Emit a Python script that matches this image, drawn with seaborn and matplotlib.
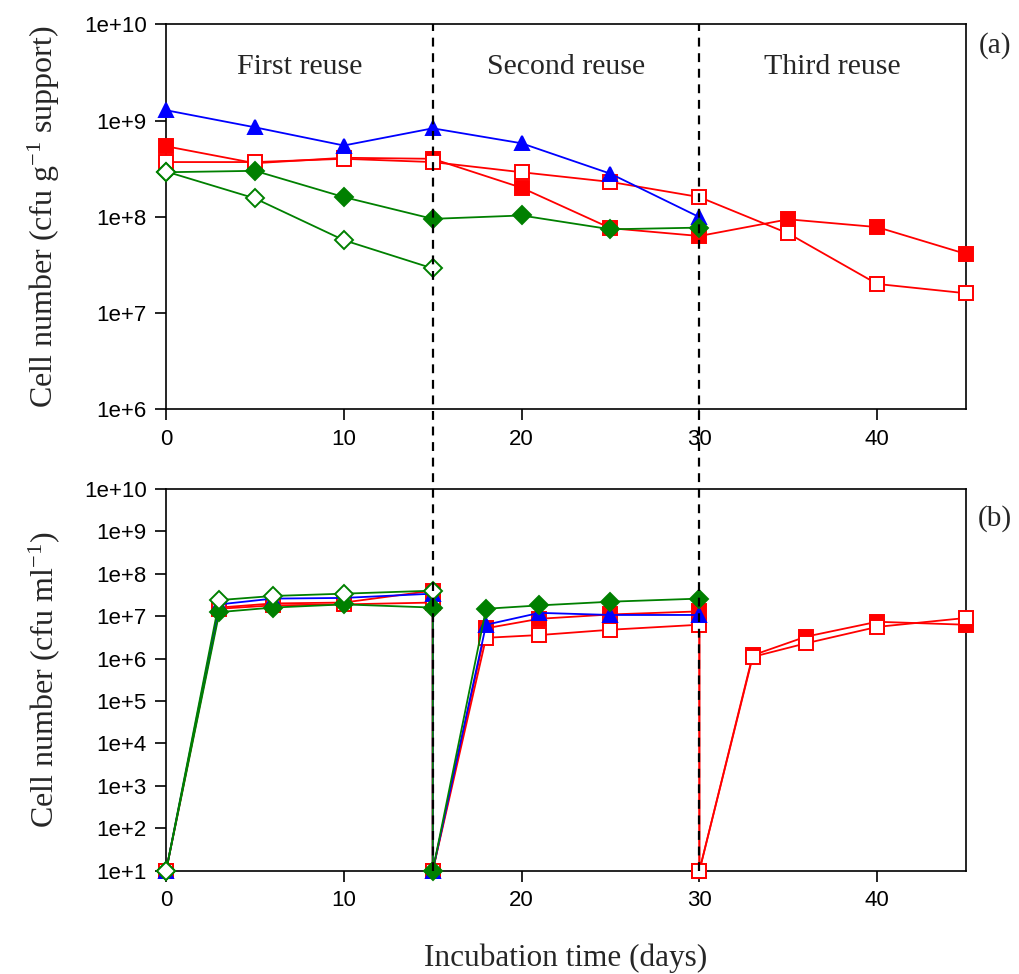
import numpy as np
import pandas as pd
import matplotlib
matplotlib.use("Agg")
import matplotlib.pyplot as plt
import matplotlib.transforms as mtransforms
from matplotlib.lines import Line2D
import seaborn as sns

# ---------------- data: panel (a) cells on support (cfu/g) ----------------
a_days_long = [0, 5, 10, 15, 20, 25, 30]
a_days_red = [0, 5, 10, 15, 20, 25, 30, 35, 40, 45]
a_days_short = [0, 5, 10, 15]
a_blue_tri = [1.28e9, 8.5e8, 5.5e8, 8.3e8, 5.8e8, 2.8e8, 9.9e7]
a_red_filled = [5.4e8, 3.6e8, 4.1e8, 4.0e8, 2.0e8, 7.6e7, 6.3e7, 9.4e7, 7.8e7, 4.1e7]
a_red_open = [3.7e8, 3.7e8, 4.0e8, 3.7e8, 2.9e8, 2.3e8, 1.6e8, 6.7e7, 2.0e7, 1.6e7]
a_green_filled = [2.9e8, 3.0e8, 1.6e8, 9.5e7, 1.03e8, 7.4e7, 7.7e7]
a_green_open = [2.95e8, 1.55e8, 5.7e7, 2.9e7]

# ---------------- data: panel (b) free cells (cfu/ml) ----------------
b_days_long = [0, 3, 6, 10, 15, 15, 18, 21, 25, 30]
b_days_red = [0, 3, 6, 10, 15, 15, 18, 21, 25, 30, 30, 33, 36, 40, 45]
b_days_short = [0, 3, 6, 10, 15]
b_blue_tri = [1e1, 1.9e7, 2.6e7, 2.7e7, 3.4e7, 1e1, 6.3e6, 1.2e7, 1.07e7, 1.07e7]
b_red_filled = [1e1, 1.6e7, 2.0e7, 2.1e7, 4.0e7, 1e1, 5.2e6, 8.7e6, 1.1e7, 1.3e7,
                1e1, 1.2e6, 3.3e6, 7.4e6, 6.3e6]
b_red_open = [1e1, 1.5e7, 1.8e7, 1.9e7, 2.1e7, 1e1, 3.1e6, 3.6e6, 4.8e6, 6.3e6,
              1e1, 1.1e6, 2.3e6, 5.6e6, 9.1e6]
b_green_filled = [1e1, 1.25e7, 1.6e7, 1.9e7, 1.6e7, 1e1, 1.5e7, 1.8e7, 2.2e7, 2.6e7]
b_green_open = [1e1, 2.4e7, 3.0e7, 3.4e7, 4.0e7]

reuse_labels = ["First reuse", "Second reuse", "Third reuse"]
reuse_centers = [7.5, 22.5, 37.5]
boundaries = [15, 30]
x_ticks = [0, 10, 20, 30, 40]

RED = "#ff0000"
BLUE = "#0000ff"
GREEN = "#008000"

sns.set_style("ticks")
plt.rcParams["font.family"] = ["Liberation Sans", "DejaVu Sans"]
plt.rcParams["mathtext.fontset"] = "custom"
plt.rcParams["mathtext.rm"] = "Liberation Serif"
plt.rcParams["mathtext.it"] = "Liberation Serif:italic"
plt.rcParams["mathtext.bf"] = "Liberation Serif:bold"
plt.rcParams["axes.unicode_minus"] = False
SERIF = ["Liberation Serif", "DejaVu Serif"]

fig = plt.figure(figsize=(10.19, 9.74), dpi=100)
ax1 = fig.add_axes([0.163, 0.580, 0.785, 0.395])
ax2 = fig.add_axes([0.163, 0.106, 0.785, 0.392])

def draw(ax, x, y, color, marker, filled, z):
    df = pd.DataFrame({"x": x, "y": y})
    sns.lineplot(data=df, x="x", y="y", ax=ax, estimator=None, sort=False,
                 color=color, linewidth=1.3, marker=marker,
                 markersize=10 if marker != "D" else 9,
                 markerfacecolor=color if filled else "white",
                 markeredgecolor=color, markeredgewidth=1.4, zorder=z,
                 clip_on=False)

def series(ax, sets):
    for i, (x, y, c, m, f) in enumerate(sets):
        draw(ax, x, y, c, m, f, 3 + i)

series(ax1, [
    (a_days_red, a_red_filled, RED, "s", True),
    (a_days_red, a_red_open, RED, "s", False),
    (a_days_long, a_blue_tri, BLUE, "^", True),
    (a_days_long, a_green_filled, GREEN, "D", True),
    (a_days_short, a_green_open, GREEN, "D", False),
])
series(ax2, [
    (b_days_red, b_red_filled, RED, "s", True),
    (b_days_red, b_red_open, RED, "s", False),
    (b_days_long, b_blue_tri, BLUE, "^", True),
    (b_days_long, b_green_filled, GREEN, "D", True),
    (b_days_short, b_green_open, GREEN, "D", False),
])

def exp_fmt(v, pos):
    return "1e+%d" % int(round(np.log10(v)))

for ax, lo, hi in [(ax1, 6, 10), (ax2, 1, 10)]:
    ax.set_yscale("log")
    ax.set_ylim(10.0 ** lo, 10.0 ** hi)
    ax.set_xlim(0, 45)
    ax.set_yticks([10.0 ** k for k in range(lo, hi + 1)])
    ax.yaxis.set_major_formatter(matplotlib.ticker.FuncFormatter(exp_fmt))
    ax.yaxis.set_minor_locator(matplotlib.ticker.NullLocator())
    ax.set_xticks(x_ticks)
    ax.tick_params(axis="both", direction="out", length=8, width=1.2,
                   labelsize=16, colors="black", pad=6)
    for s in ax.spines.values():
        s.set_visible(True)
        s.set_color("black")
        s.set_linewidth(1.2)
        s.set_zorder(1)
    ax.set_xlabel("")
    ax.set_ylabel("")
    ax.patch.set_alpha(0)

ax1.set_ylabel("Cell number (cfu g$^{-1}$ support)", fontsize=23, family=SERIF, labelpad=16)
ax2.set_ylabel("Cell number (cfu ml$^{-1}$)", fontsize=23, family=SERIF, labelpad=16)
fig.text(0.555, 0.0164, "Incubation time (days)", ha="center", va="center",
         fontsize=22.5, family=SERIF)

for lab, cx in zip(reuse_labels, reuse_centers):
    ax1.text(cx, 10 ** 9.56, lab, ha="center", va="center", fontsize=21.5, family=SERIF)

fig.text(0.976, 0.953, "(a)", ha="center", va="center", fontsize=21, family=SERIF)
fig.text(0.976, 0.468, "(b)", ha="center", va="center", fontsize=21, family=SERIF)

# dashed boundaries spanning both panels
trans = mtransforms.blended_transform_factory(ax1.transData, fig.transFigure)
for b in boundaries:
    fig.add_artist(Line2D([b, b], [0.106, 0.975], transform=trans, color="black",
                          linestyle=(0, (4, 3)), linewidth=1.6, zorder=20))

fig.savefig("out.png", dpi=100)
